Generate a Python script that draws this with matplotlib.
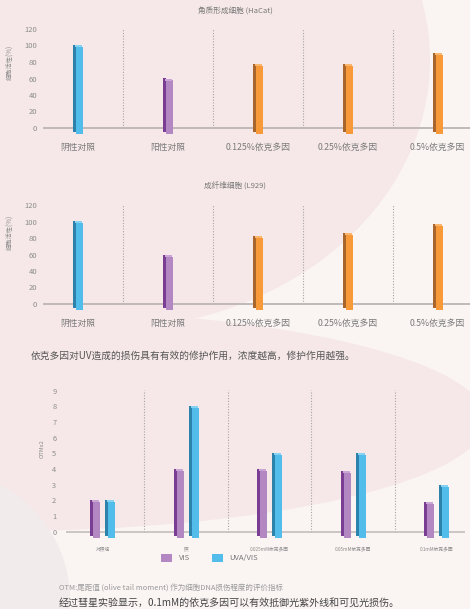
import matplotlib
matplotlib.use('Agg')
import matplotlib.pyplot as plt
from matplotlib.patches import Ellipse, Circle, Patch

plt.rcParams['font.family'] = ['Noto Sans CJK SC', 'DejaVu Sans']

W, H, DPI = 470, 609, 100

# ---------------- data ----------------
cell_cats = ['阴性对照', '阳性对照', '0.125%依克多因', '0.25%依克多因', '0.5%依克多因']
hacat_vals = [101, 60, 77, 77, 91]
l929_vals = [101, 60, 82, 86, 97]
cell_colors = ['blue', 'purple', 'orange', 'orange', 'orange']
cell_ticks = [0, 20, 40, 60, 80, 100, 120]

comet_cats = ['对照组', '照', '0.025mM依克多因', '0.05mM依克多因', '0.1mM依克多因']
vis_vals = [2.0, 4.0, 4.0, 3.9, 1.9]
uva_vis_vals = [2.0, 8.0, 5.0, 5.0, 3.0]
otm_ticks = [0, 1, 2, 3, 4, 5, 6, 7, 8, 9]
series_names = ['VIS', 'UVA/VIS']

PAL = {
    'blue': ('#52bdea', '#2d82ab', '#86d2f2'),
    'purple': ('#b388c2', '#7a3d94', '#c9a6d5'),
    'orange': ('#f89a3a', '#a8652c', '#fbb66e'),
}

fig = plt.figure(figsize=(W / DPI, H / DPI), dpi=DPI)
fig.patch.set_facecolor('#faf4f3')

# background shapes
bg = fig.add_axes([0, 0, 1, 1], zorder=-10)
bg.set_xlim(0, W)
bg.set_ylim(H, 0)
bg.axis('off')
bg.add_patch(Ellipse((100, 60), 660, 540, color='#f6e8e8', lw=0))
bg.add_patch(Ellipse((0, 420), 972, 222, color='#f6e8e8', lw=0))
bg.add_patch(Circle((-60, 600), 130, color='#f2ebec', lw=0))


def px_axes(l, t, r, b):
    ax = fig.add_axes([l / W, 1 - b / H, (r - l) / W, (b - t) / H])
    ax.patch.set_alpha(0)
    for s in ax.spines.values():
        s.set_visible(False)
    return ax


def bar3d(ax, x, v, cols, sx, sy):
    front, side, cap = cols
    ax.bar(x - 3.5 * sx, v + 4 * sy, bottom=-4 * sy, width=3 * sx,
           color=side, lw=0, zorder=3)
    ax.bar(x + 1.5 * sx, v - 2 * sy + 6 * sy, bottom=-6 * sy, width=7 * sx,
           color=front, lw=0, zorder=4)
    ax.bar(x + 0.5 * sx, 2 * sy, bottom=v - 2 * sy, width=7 * sx,
           color=cap, lw=0, zorder=4)


def cell_chart(zero_px, title, title_y, vals, ylab_y):
    ppu_y = 0.825
    ppu_x = 89.9
    ax = px_axes(43, zero_px - 110, 470, zero_px + 12)
    ax.set_ylim(-12 / ppu_y, 110 / ppu_y)
    ax.set_xlim((43 - 78) / ppu_x, (470 - 78) / ppu_x)
    sx, sy = 1 / ppu_x, 1 / ppu_y
    ax.axhline(0, color='#bdb4b4', lw=1.3, zorder=2)
    for i in range(len(cell_cats) - 1):
        ax.plot([i + 0.5, i + 0.5], [0, 121], color='#a9a4a4', lw=0.8,
                ls=(0, (1, 1.5)), zorder=1)
    for i, v in enumerate(vals):
        bar3d(ax, i, v, PAL[cell_colors[i]], sx, sy)
    ax.set_yticks(cell_ticks)
    ax.set_yticklabels([str(t) for t in cell_ticks], fontsize=5.5, color='#8c8c8c')
    ax.set_xticks(range(len(cell_cats)))
    ax.set_xticklabels(cell_cats, fontsize=6.3, color='#7a7a7a')
    ax.tick_params(axis='y', length=0, pad=4.3)
    ax.tick_params(axis='x', length=0, pad=2.0)
    fig.text(235 / W, 1 - title_y / H, title, ha='center', va='center',
             fontsize=5.5, color='#777777')
    fig.text(10 / W, 1 - ylab_y / H, '细胞活性(%)', ha='center', va='center',
             rotation=90, fontsize=4.5, color='#8c8c8c')
    return ax


cell_chart(128, '角质形成细胞 (HaCat)', 11, hacat_vals, 62)
cell_chart(304, '成纤维细胞 (L929)', 187, l929_vals, 232)

fig.text(31 / W, 1 - 356 / H,
         '依克多因对UV造成的损伤具有有效的修护作用，浓度越高，修护作用越强。',
         ha='left', va='center', fontsize=7.0, color='#555555')

# ---------------- comet chart ----------------
ppu_x3 = 83.5
ppu_y3 = 15.67
ax3 = px_axes(66, 385, 465, 545)
ax3.set_xlim((66 - 102.5) / ppu_x3, (465 - 102.5) / ppu_x3)
ax3.set_ylim(-13.3 / ppu_y3, 146.7 / ppu_y3)
sx3, sy3 = 1 / ppu_x3, 1 / ppu_y3
ax3.axhline(0, color='#c0b9b9', lw=1.1, zorder=2)
for i in range(len(comet_cats) - 1):
    ax3.plot([i + 0.5, i + 0.5], [0, 9.05], color='#a9a4a4', lw=0.8,
             ls=(0, (1, 1.5)), zorder=1)
off = 7.5 * sx3
for i in range(len(comet_cats)):
    bar3d(ax3, i - off, vis_vals[i], PAL['purple'], sx3, sy3)
    bar3d(ax3, i + off, uva_vis_vals[i], PAL['blue'], sx3, sy3)
ax3.set_yticks(otm_ticks)
ax3.set_yticklabels([str(t) for t in otm_ticks], fontsize=5.3, color='#8c8c8c')
ax3.set_xticks(range(len(comet_cats)))
ax3.set_xticklabels(comet_cats, fontsize=3.4, color='#8c8c8c')
ax3.tick_params(axis='y', length=0, pad=7)
ax3.tick_params(axis='x', length=0, pad=1.0)
fig.text(42 / W, 1 - 449 / H, 'OTMx2', ha='center', va='center', rotation=90,
         fontsize=4.2, color='#8c8c8c')

handles = [Patch(facecolor=PAL['purple'][0], edgecolor='none'),
           Patch(facecolor=PAL['blue'][0], edgecolor='none')]
fig.legend(handles, series_names, loc='center', ncol=2,
           bbox_to_anchor=(209.5 / W, 1 - 558 / H), frameon=False,
           fontsize=5.5, labelcolor='#777777', handlelength=1.45,
           handleheight=1.3, handletextpad=0.8, columnspacing=2.9,
           borderpad=0, borderaxespad=0)

fig.text(59 / W, 1 - 589 / H,
         'OTM:尾距值 (olive tail moment) 作为细胞DNA损伤程度的评价指标',
         ha='left', va='center', fontsize=5.4, color='#9a9a9a')
fig.text(59 / W, 1 - 603 / H,
         '经过彗星实验显示，0.1mM的依克多因可以有效抵御光紫外线和可见光损伤。',
         ha='left', va='center', fontsize=7.2, color='#444444')

fig.savefig('out.png', dpi=DPI, facecolor=fig.get_facecolor())
